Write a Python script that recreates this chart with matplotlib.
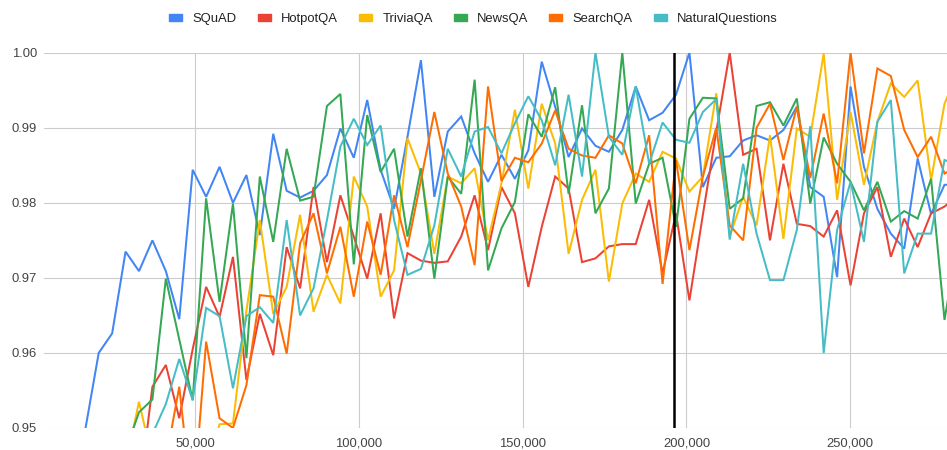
import numpy as np
import matplotlib
matplotlib.use("Agg")
import matplotlib.pyplot as plt
from matplotlib.patches import Patch

plt.rcParams['font.family'] = ['Liberation Sans', 'DejaVu Sans']

# pasos de entrenamiento (un punto cada 4100 pasos)
pasos = np.arange(1, 70) * 4100

squad = [0.930, 0.938, 0.944, 0.9498, 0.9600, 0.9626, 0.9735, 0.9709, 0.9750, 0.9709,
         0.9645, 0.9844, 0.9808, 0.9848, 0.9800, 0.9837, 0.9757, 0.9892, 0.9816, 0.9807,
         0.9816, 0.9837, 0.9899, 0.9860, 0.9937, 0.9844, 0.9792, 0.9888, 0.9990, 0.9808,
         0.9895, 0.9915, 0.9866, 0.9828, 0.9864, 0.9832, 0.9870, 0.9988, 0.9928, 0.9861,
         0.9899, 0.9876, 0.9868, 0.9897, 0.9955, 0.9910, 0.9920, 0.9944, 1.0000, 0.9821,
         0.9860, 0.9862, 0.9883, 0.9890, 0.9883, 0.9897, 0.9928, 0.9821, 0.9808, 0.9701,
         0.9955, 0.9848, 0.9792, 0.9759, 0.9739, 0.9859, 0.9785, 0.9824, 0.9824]

hotpotqa = [0.925, 0.928, 0.932, 0.935, 0.936, 0.938, 0.940, 0.941, 0.9555, 0.9584,
            0.9513, 0.9605, 0.9688, 0.9648, 0.9728, 0.9564, 0.9652, 0.9597, 0.9741, 0.9686,
            0.9821, 0.9721, 0.9810, 0.9755, 0.9699, 0.9786, 0.9646, 0.9733, 0.9723, 0.9720,
            0.9722, 0.9755, 0.9810, 0.9737, 0.9821, 0.9786, 0.9688, 0.9768, 0.9835, 0.9819,
            0.9721, 0.9726, 0.9742, 0.9745, 0.9745, 0.9804, 0.9706, 0.9786, 0.9670, 0.9784,
            0.9895, 1.0000, 0.9864, 0.9872, 0.9750, 0.9852, 0.9772, 0.9769, 0.9755, 0.9790,
            0.9690, 0.9786, 0.9821, 0.9728, 0.9779, 0.9741, 0.9786, 0.9795, 0.9810]

triviaqa = [0.930, 0.933, 0.936, 0.938, 0.940, 0.942, 0.945, 0.9535, 0.9457, 0.940,
            0.938, 0.940, 0.944, 0.9505, 0.9506, 0.9656, 0.9777, 0.9652, 0.9688, 0.9784,
            0.9655, 0.9704, 0.9666, 0.9835, 0.9795, 0.9675, 0.9710, 0.9886, 0.9839, 0.9732,
            0.9835, 0.9826, 0.9846, 0.9750, 0.9826, 0.9924, 0.9819, 0.9932, 0.9879, 0.9732,
            0.9804, 0.9844, 0.9695, 0.9799, 0.9839, 0.9828, 0.9868, 0.9859, 0.9815, 0.9835,
            0.9946, 0.9755, 0.9808, 0.9770, 0.9890, 0.9752, 0.9899, 0.9888, 0.9999, 0.9804,
            0.9921, 0.9824, 0.9908, 0.9959, 0.9941, 0.9963, 0.9830, 0.9932, 0.9975]

newsqa = [0.930, 0.932, 0.935, 0.938, 0.940, 0.943, 0.947, 0.9521, 0.9538, 0.9699,
          0.9618, 0.9537, 0.9806, 0.9668, 0.9799, 0.9593, 0.9835, 0.9748, 0.9872, 0.9803,
          0.9808, 0.9929, 0.9945, 0.9718, 0.9917, 0.9841, 0.9872, 0.9755, 0.9846, 0.9699,
          0.9835, 0.9812, 0.9964, 0.9710, 0.9766, 0.9801, 0.9918, 0.9888, 0.9954, 0.9812,
          0.9930, 0.9786, 0.9819, 1.0000, 0.9799, 0.9852, 0.9860, 0.9768, 0.9912, 0.9940,
          0.9939, 0.9792, 0.9806, 0.9929, 0.9934, 0.9903, 0.9939, 0.9799, 0.9887, 0.9852,
          0.9828, 0.9790, 0.9828, 0.9775, 0.9789, 0.9779, 0.9832, 0.9644, 0.9750]

searchqa = [0.925, 0.927, 0.930, 0.932, 0.934, 0.936, 0.938, 0.939, 0.941, 0.9457,
            0.9555, 0.939, 0.9615, 0.9513, 0.9500, 0.9557, 0.9677, 0.9675, 0.9599, 0.9746,
            0.9786, 0.9706, 0.9768, 0.9675, 0.9775, 0.9704, 0.9810, 0.9741, 0.9830, 0.9921,
            0.9839, 0.9795, 0.9717, 0.9955, 0.9829, 0.9860, 0.9854, 0.9879, 0.9923, 0.9872,
            0.9863, 0.9860, 0.9890, 0.9879, 0.9826, 0.9890, 0.9692, 0.9857, 0.9737, 0.9835,
            0.9900, 0.9770, 0.9750, 0.9900, 0.9932, 0.9857, 0.9928, 0.9833, 0.9919, 0.9826,
            1.0000, 0.9866, 0.9979, 0.9969, 0.9897, 0.9861, 0.9888, 0.9839, 0.9850]

naturalq = [0.925, 0.928, 0.931, 0.934, 0.937, 0.940, 0.943, 0.946, 0.9492, 0.9532,
            0.9592, 0.9537, 0.9660, 0.9649, 0.9553, 0.9649, 0.9661, 0.9640, 0.9777, 0.9650,
            0.9686, 0.9777, 0.9875, 0.9912, 0.9877, 0.9903, 0.9777, 0.9704, 0.9712, 0.9770,
            0.9872, 0.9835, 0.9895, 0.9901, 0.9866, 0.9906, 0.9942, 0.9910, 0.9850, 0.9944,
            0.9835, 1.0000, 0.9888, 0.9864, 0.9955, 0.9852, 0.9907, 0.9884, 0.9880, 0.9921,
            0.9938, 0.9751, 0.9852, 0.9759, 0.9697, 0.9697, 0.9764, 0.9902, 0.9600, 0.9764,
            0.9828, 0.9748, 0.9908, 0.9937, 0.9706, 0.9759, 0.9759, 0.9857, 0.9850]

nombres = ['SQuAD', 'HotpotQA', 'TriviaQA', 'NewsQA', 'SearchQA', 'NaturalQuestions']
series = [squad, hotpotqa, triviaqa, newsqa, searchqa, naturalq]
colores = ['#4285F4', '#EA4335', '#FBBC04', '#34A853', '#FF6D01', '#46BDC6']

marca_x = 196200  # linea vertical negra
ticks_x = [50000, 100000, 150000, 200000, 250000]
ticks_y = [0.95, 0.96, 0.97, 0.98, 0.99, 1.00]

W, H = 947, 450
fig = plt.figure(figsize=(W / 100, H / 100), dpi=100)
ax = fig.add_axes([44 / W, 1 - 428 / H, 903 / W, 375.3 / H])

for datos, color in zip(series, colores):
    ax.plot(pasos, datos, color=color, lw=1.45, solid_joinstyle='miter', zorder=3)

ax.axvline(marca_x, color='black', lw=1.8, zorder=4)

ax.set_xlim(3790, 279560)
ax.set_ylim(0.95, 1.0)
ax.set_xticks(ticks_x)
ax.set_xticklabels([f'{t:,}' for t in ticks_x])
ax.set_yticks(ticks_y)
ax.set_yticklabels([f'{t:.2f}' for t in ticks_y])
ax.grid(True, color='#cccccc', lw=0.8, zorder=0)
for s in ax.spines.values():
    s.set_visible(False)
ax.tick_params(axis='both', length=0, labelsize=9.4, labelcolor='#444444')
ax.tick_params(axis='x', pad=7)
ax.tick_params(axis='y', pad=5)

manijas = [Patch(color=c, label=n) for c, n in zip(colores, nombres)]
fig.legend(handles=manijas, loc='center', bbox_to_anchor=(0.5, 1 - 19 / H), ncol=6,
           frameon=False, fontsize=9.4, handlelength=1.0, handleheight=0.45,
           handletextpad=0.8, columnspacing=1.6, labelcolor='#222222')

fig.savefig('out.png', dpi=100)
